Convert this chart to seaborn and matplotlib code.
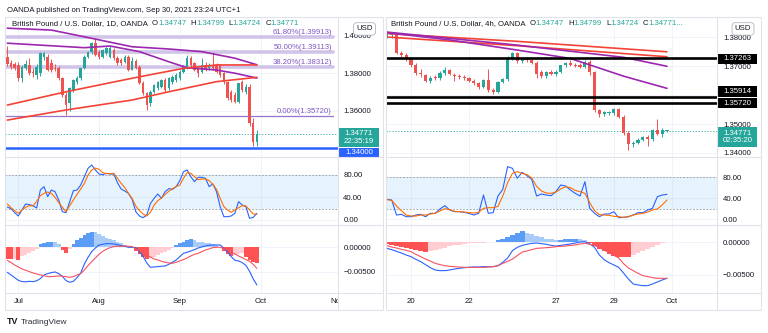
import numpy as np
import pandas as pd
import matplotlib
matplotlib.use("Agg")
import matplotlib.pyplot as plt
import matplotlib.transforms as mtransforms
from matplotlib.lines import Line2D
from matplotlib.patches import Rectangle
from matplotlib.ticker import FixedLocator, FuncFormatter
import seaborn as sns

sns.set_theme(style="white")
plt.rcParams["font.family"] = ["Liberation Sans", "DejaVu Sans"]

INK = "#131722"
UP = "#26a69a"
DOWN = "#ef5350"
PURPLE = "#9c27b0"
MA_RED = "#f44336"
BORDER = "#e0e3eb"
GRID = "#f0f3fa"
FS = 5.6

# ---------------- GBP/USD daily candles, 28 Jun - 30 Sep 2021 ----------------
day_start, day_end = "2021-06-28", "2021-09-30"
day_open = [1.3888, 1.3853, 1.3847, 1.3844, 1.3773, 1.3826, 1.3844, 1.3808, 1.3790, 1.3800,
            1.3888, 1.3888, 1.3853, 1.3828, 1.3826, 1.3773, 1.3684, 1.3639, 1.3710, 1.3755,
            1.3773, 1.3826, 1.3888, 1.3915, 1.3959, 1.3915, 1.3888, 1.3906, 1.3888, 1.3924,
            1.3879, 1.3870, 1.3861, 1.3888, 1.3817, 1.3865, 1.3835, 1.3746, 1.3693, 1.3639,
            1.3702, 1.3719, 1.3728, 1.3764, 1.3719, 1.3755, 1.3764, 1.3773, 1.3808, 1.3835,
            1.3879, 1.3853, 1.3826, 1.3808, 1.3844, 1.3826, 1.3844, 1.3844, 1.3844, 1.3799,
            1.3755, 1.3702, 1.3684, 1.3648, 1.3755, 1.3702, 1.3728, 1.3535, 1.3435]
day_high = [1.3947, 1.3870, 1.3862, 1.3858, 1.3844, 1.3870, 1.3880, 1.3830, 1.3850, 1.3915,
            1.3915, 1.3900, 1.3875, 1.3850, 1.3840, 1.3780, 1.3700, 1.3725, 1.3770, 1.3785,
            1.3830, 1.3895, 1.3920, 1.3965, 1.3986, 1.3925, 1.3930, 1.3940, 1.3945, 1.3935,
            1.3890, 1.3880, 1.3895, 1.3895, 1.3885, 1.3875, 1.3845, 1.3760, 1.3700, 1.3712,
            1.3745, 1.3760, 1.3770, 1.3775, 1.3780, 1.3790, 1.3800, 1.3815, 1.3845, 1.3897,
            1.3890, 1.3860, 1.3835, 1.3879, 1.3860, 1.3855, 1.3915, 1.3855, 1.3850, 1.3808,
            1.3760, 1.3710, 1.3700, 1.3750, 1.3762, 1.3745, 1.3740, 1.3560, 1.3495]
day_low = [1.3840, 1.3825, 1.3815, 1.3760, 1.3755, 1.3815, 1.3790, 1.3780, 1.3770, 1.3785,
           1.3870, 1.3810, 1.3805, 1.3810, 1.3765, 1.3675, 1.3577, 1.3600, 1.3700, 1.3745,
           1.3765, 1.3820, 1.3880, 1.3905, 1.3890, 1.3875, 1.3880, 1.3895, 1.3880, 1.3870,
           1.3845, 1.3845, 1.3855, 1.3810, 1.3815, 1.3820, 1.3740, 1.3685, 1.3602, 1.3625,
           1.3695, 1.3710, 1.3720, 1.3700, 1.3712, 1.3745, 1.3755, 1.3765, 1.3800, 1.3825,
           1.3835, 1.3810, 1.3780, 1.3800, 1.3810, 1.3815, 1.3815, 1.3800, 1.3780, 1.3745,
           1.3655, 1.3645, 1.3640, 1.3640, 1.3700, 1.3690, 1.3520, 1.3410, 1.3410]
day_close = [1.3847, 1.3835, 1.3826, 1.3773, 1.3835, 1.3847, 1.3799, 1.3799, 1.3835, 1.3906,
             1.3906, 1.3817, 1.3817, 1.3824, 1.3773, 1.3684, 1.3630, 1.3719, 1.3764, 1.3773,
             1.3826, 1.3888, 1.3915, 1.3959, 1.3897, 1.3888, 1.3924, 1.3933, 1.3933, 1.3879,
             1.3853, 1.3853, 1.3888, 1.3817, 1.3865, 1.3830, 1.3746, 1.3693, 1.3630, 1.3702,
             1.3737, 1.3755, 1.3764, 1.3710, 1.3773, 1.3781, 1.3790, 1.3808, 1.3835, 1.3879,
             1.3844, 1.3817, 1.3799, 1.3844, 1.3817, 1.3844, 1.3826, 1.3808, 1.3790, 1.3755,
             1.3666, 1.3657, 1.3648, 1.3746, 1.3710, 1.3728, 1.3535, 1.3435, 1.3477]

# moving averages on the daily chart, as (bar index, value) knots
day_ma1_idx = [0, 12, 23, 34, 44, 53, 62, 68]
day_ma1 = [1.4040, 1.4030, 1.3986, 1.3941, 1.3929, 1.3915, 1.3880, 1.3845]
day_ma2_idx = [0, 21, 28, 36, 44, 49, 57, 62, 68]
day_ma2 = [1.3960, 1.3936, 1.3945, 1.3915, 1.3861, 1.3829, 1.3817, 1.3800, 1.3774]
day_ma3_idx = [0, 16, 34, 48, 57, 68]
day_ma3 = [1.3630, 1.3701, 1.3773, 1.3826, 1.3844, 1.3844]
day_ma4_idx = [0, 16, 34, 44, 57, 68]
day_ma4 = [1.3550, 1.3604, 1.3657, 1.3701, 1.3755, 1.3778]

# Fibonacci retracement levels
fib_names = ["61.80%", "50.00%", "38.20%", "0.00%"]
fib_prices = [1.39913, 1.39113, 1.38312, 1.35720]
day_support = 1.34000

# Stochastic RSI on the daily bars
day_k = [23.1, 20.1, 13.0, 7.1, 17.8, 28.4, 27.3, 25.5, 21.3, 53.3, 59.3, 41.5, 53.3, 50.4, 35.6,
         14.8, 13.0, 32.6, 52.1, 53.3, 62.2, 77.0, 91.9, 97.8, 88.9, 81.8, 80.6, 83.0, 81.8, 81.8,
         66.4, 55.1, 51.6, 47.4, 36.7, 14.8, 7.1, 4.1, 8.9, 29.6, 38.5, 46.2, 38.5, 50.4, 55.7,
         54.5, 59.3, 69.9, 85.9, 88.9, 77.0, 68.1, 75.9, 75.9, 74.1, 59.3, 64.0, 50.4, 23.7, 5.9,
         5.9, 7.1, 11.9, 32.6, 26.7, 23.7, 3.0, 4.7, 11.9]
day_d = [28.4, 21.9, 16.6, 11.9, 17.8, 22.5, 25.5, 24.9, 33.2, 43.3, 47.4, 49.8, 47.4, 40.3, 30.8,
         22.5, 14.8, 25.5, 35.6, 45.6, 55.1, 65.2, 80.0, 88.9, 92.4, 90.1, 84.2, 82.4, 82.4, 83.0,
         74.1, 65.2, 57.5, 47.4, 38.5, 24.9, 16.6, 10.7, 7.1, 13.6, 26.7, 34.4, 39.1, 45.6, 51.0,
         55.7, 59.3, 62.2, 74.1, 84.2, 83.0, 77.0, 71.7, 72.9, 72.9, 70.0, 63.4, 54.5, 38.5, 23.7,
         17.8, 13.6, 17.8, 21.9, 25.5, 24.9, 17.8, 10.7, 10.1]

# MACD on the daily bars (units of 0.001)
MACD_UNIT = 1e-3
day_macd = [-5.07, -5.61, -6.15, -6.69, -6.96, -7.00, -6.90, -6.96, -6.80, -6.35, -5.61, -5.34,
            -5.14, -5.00, -5.34, -5.88, -6.76, -7.10, -6.90, -6.15, -5.21, -3.38, -2.03, -0.88,
            -0.14, 0.47, 0.61, 0.74, 0.74, 0.68, 0.54, 0.34, 0.20, 0.00, 0.00, -0.07, -0.95,
            -1.83, -3.18, -4.06, -3.99, -3.92, -3.85, -3.79, -3.45, -3.04, -2.57, -1.89, -1.22,
            -1.01, -0.74, -0.47, -0.14, 0.07, 0.27, 0.41, 0.47, 0.47, 0.47, -0.20, -0.95, -1.89,
            -2.64, -2.77, -3.11, -3.65, -4.87, -6.42, -7.64]
day_signal = [-2.64, -3.11, -3.58, -3.99, -4.39, -4.66, -4.93, -5.21, -5.41, -5.61, -5.75, -5.95,
              -5.95, -5.88, -5.81, -5.88, -5.95, -6.08, -5.95, -5.61, -5.34, -4.60, -3.72, -2.91,
              -2.16, -1.42, -0.81, -0.41, -0.07, 0.14, 0.20, 0.20, 0.27, 0.20, 0.14, -0.34, -0.68,
              -0.95, -1.49, -1.96, -2.37, -2.57, -2.84, -3.04, -3.18, -3.24, -3.04, -2.77, -2.50,
              -2.16, -1.76, -1.42, -1.22, -0.88, -0.54, -0.34, -0.07, 0.00, 0.00, -0.27, -0.54,
              -0.95, -1.35, -1.76, -2.10, -2.50, -2.84, -3.45, -4.26]
day_hist = [-2.3, -2.45, -2.3, -2.5, -1.8, -1.5, -1.1, -0.75, -0.25, 0.6, 0.9, 1.0, 1.15, 1.1, 0.6,
            -0.5, -1.1, -0.3, 0.6, 1.4, 1.9, 2.4, 2.8, 3.1, 3.0, 2.6, 2.2, 1.9, 1.6, 1.4, 1.05, 0.8,
            0.5, 0.3, 0.15, -0.7, -1.3, -1.9, -2.4, -2.2, -1.9, -1.6, -1.2, -0.9, -0.6, -0.1, 0.45,
            0.8, 1.15, 1.5, 1.75, 1.4, 1.1, 1.0, 0.9, 0.8, 0.65, 0.45, 0.05, -0.8, -1.3, -1.8,
            -1.6, -1.4, -1.25, -2.0, -2.6, -2.9, -3.1]

# ---------------- GBP/USD 4-hour candles, 17 Sep 04:00 - 30 Sep 20:00 ----------------
h4_first, h4_last = "2021-09-17 04:00", "2021-09-30 20:00"
h4_open = [1.3803, 1.3808, 1.3810, 1.3746, 1.3738, 1.3725, 1.3705, 1.3676, 1.3668, 1.3648,
           1.3660, 1.3657, 1.3675, 1.3686, 1.3670, 1.3666, 1.3662, 1.3658, 1.3650, 1.3640,
           1.3628, 1.3653, 1.3617, 1.3612, 1.3645, 1.3655, 1.3725, 1.3744, 1.3716, 1.3728,
           1.3720, 1.3712, 1.3680, 1.3665, 1.3678, 1.3672, 1.3680, 1.3702, 1.3710, 1.3705,
           1.3702, 1.3697, 1.3715, 1.3678, 1.3548, 1.3533, 1.3538, 1.3538, 1.3552, 1.3525,
           1.3468, 1.3430, 1.3436, 1.3446, 1.3456, 1.3448, 1.3478, 1.3466, 1.34747]
h4_high = [1.3815, 1.3818, 1.3815, 1.3752, 1.3745, 1.3730, 1.3712, 1.3690, 1.3672, 1.3665,
           1.3668, 1.3682, 1.3695, 1.3690, 1.3676, 1.3672, 1.3668, 1.3662, 1.3655, 1.3645,
           1.3655, 1.3690, 1.3625, 1.3650, 1.3660, 1.3735, 1.3748, 1.3748, 1.3732, 1.3732,
           1.3725, 1.3716, 1.3685, 1.3683, 1.3685, 1.3686, 1.3705, 1.3715, 1.3722, 1.3712,
           1.3710, 1.3720, 1.3720, 1.3682, 1.3552, 1.3545, 1.3545, 1.3556, 1.3556, 1.3530,
           1.3475, 1.3440, 1.3450, 1.3460, 1.3462, 1.3482, 1.3518, 1.3485, 1.34799]
h4_low = [1.3795, 1.3798, 1.3740, 1.3730, 1.3718, 1.3698, 1.3668, 1.3662, 1.3645, 1.3642,
          1.3652, 1.3652, 1.3670, 1.3670, 1.3648, 1.3655, 1.3652, 1.3645, 1.3635, 1.3620,
          1.3625, 1.3610, 1.3605, 1.3608, 1.3640, 1.3650, 1.3720, 1.3712, 1.3710, 1.3714,
          1.3708, 1.3660, 1.3660, 1.3660, 1.3668, 1.3665, 1.3676, 1.3698, 1.3700, 1.3696,
          1.3692, 1.3692, 1.3670, 1.3540, 1.3525, 1.3528, 1.3532, 1.3532, 1.3520, 1.3462,
          1.3412, 1.3422, 1.3430, 1.3440, 1.3425, 1.3440, 1.3462, 1.3455, 1.34724]
h4_close = [1.3810, 1.3812, 1.3746, 1.3738, 1.3725, 1.3705, 1.3675, 1.3672, 1.3650, 1.3660,
            1.3657, 1.3675, 1.3686, 1.3674, 1.3666, 1.3662, 1.3658, 1.3650, 1.3640, 1.3628,
            1.3651, 1.3617, 1.3612, 1.3645, 1.3655, 1.3725, 1.3744, 1.3716, 1.3728, 1.3720,
            1.3712, 1.3672, 1.3664, 1.3678, 1.3672, 1.3680, 1.3702, 1.3710, 1.3705, 1.3700,
            1.3697, 1.3715, 1.3678, 1.3548, 1.3533, 1.3540, 1.3540, 1.3552, 1.3525, 1.3468,
            1.3430, 1.3436, 1.3446, 1.3456, 1.3448, 1.3478, 1.3466, 1.3480, 1.34771]

# moving averages on the 4h chart, as (4h slot, value) knots; slot 6 = 20 Sep 00:00
h4_ma1_idx = [1, 28, 59]
h4_ma1 = [1.3812, 1.3785, 1.3749]
h4_ma2_idx = [1, 28, 59]
h4_ma2 = [1.3800, 1.3770, 1.3732]
h4_ma3_idx = [1, 28, 50, 59]
h4_ma3 = [1.3817, 1.3772, 1.3730, 1.3699]
h4_ma4_idx = [1, 14, 28, 39, 50, 59]
h4_ma4 = [1.3815, 1.3790, 1.3755, 1.3726, 1.3665, 1.3623]

h4_levels = [1.37263, 1.35914, 1.35720]

h4_k = [37.5, 36.2, 7.6, 8.9, 4.4, 4.4, 7.6, 8.9, 4.4, 10.8,
        10.8, 19.1, 25.4, 17.2, 14.0, 14.0, 12.7, 10.8, 7.6, 10.8,
        45.7, 10.8, 12.1, 43.8, 56.5, 99.7, 96.5, 77.5, 88.9, 82.6,
        75.6, 43.8, 47.6, 45.7, 44.5, 52.1, 64.8, 62.9, 55.3, 48.9,
        43.8, 71.1, 20.3, 10.8, 4.4, 9.5, 9.5, 14.0, 2.5, 3.2,
        4.4, 7.6, 12.1, 12.1, 17.2, 20.3, 42.5, 45.7, 47.0]
h4_d = [36.8, 35.6, 24.8, 15.9, 7.6, 5.7, 5.7, 7.6, 7.6, 9.5,
        10.8, 15.3, 19.7, 17.8, 14.6, 14.0, 13.3, 12.1, 11.4, 12.7,
        20.3, 21.6, 21.6, 24.1, 43.8, 69.2, 87.0, 90.2, 87.0, 84.5,
        78.1, 62.2, 53.4, 49.5, 48.9, 51.4, 57.2, 61.6, 59.7, 54.6,
        52.1, 48.9, 31.1, 15.9, 8.3, 7.6, 7.0, 5.1, 4.4, 3.2,
        4.4, 7.6, 9.5, 10.8, 13.3, 17.2, 19.1, 26.7, 36.2]
h4_macd = [-0.96, -1.16, -1.41, -1.67, -1.97, -2.22, -2.63, -2.98, -3.43, -3.89,
           -4.24, -4.34, -4.34, -4.24, -4.09, -3.99, -3.89, -3.84, -3.79, -3.79,
           -3.74, -3.74, -3.74, -3.59, -3.08, -2.42, -1.31, -0.81, -0.51, -0.35,
           -0.20, -0.15, -0.25, -0.35, -0.51, -0.61, -0.51, -0.40, -0.30, -0.15,
           0.00, 0.05, -0.25, -0.81, -1.97, -2.68, -3.13, -3.48, -3.84, -4.70,
           -5.61, -6.36, -6.51, -6.62, -6.62, -6.36, -6.06, -5.76, -5.50]
h4_signal = [-0.56, -0.76, -0.91, -1.11, -1.26, -1.46, -1.87, -2.22, -2.58, -2.88,
             -3.23, -3.43, -3.59, -3.69, -3.74, -3.79, -3.84, -3.84, -3.84, -3.84,
             -3.84, -3.79, -3.74, -3.59, -3.23, -2.93, -2.58, -2.07, -1.52, -1.36,
             -1.16, -0.96, -0.91, -0.86, -0.81, -0.71, -0.66, -0.61, -0.51, -0.45,
             -0.30, -0.20, -0.35, -0.51, -0.86, -1.21, -1.62, -2.02, -2.42, -3.28,
             -3.94, -4.34, -4.75, -5.10, -5.25, -5.40, -5.50, -5.50, -5.50]
h4_hist = [-0.25, -0.4, -0.55, -0.7, -0.85, -1.0, -1.2, -1.4, -1.55, -1.4,
           -1.25, -1.05, -0.85, -0.65, -0.5, -0.4, -0.3, -0.2, -0.15, -0.12,
           -0.1, -0.06, -0.02, 0.25, 0.45, 0.75, 1.05, 1.4, 1.62, 1.4,
           1.15, 0.9, 0.7, 0.5, 0.4, 0.3, 0.35, 0.4, 0.42, 0.45,
           0.4, 0.25, -0.1, -0.6, -1.0, -1.3, -1.75, -2.1, -2.2, -2.25,
           -2.3, -2.0, -1.7, -1.4, -1.05, -0.75, -0.45, -0.2, 0.0]

last_price = 1.34771
header_ohlc = [("O", "1.34747"), ("H", "1.34799"), ("L", "1.34724"), ("C", "1.34771")]

# ---------------- figure helpers ----------------
FW, FH = 768, 333
fig = plt.figure(figsize=(FW / 100, FH / 100), dpi=100)
fig.patch.set_facecolor("white")


def px_rect(x0, y0, x1, y1):
    return [x0 / FW, 1 - y1 / FH, (x1 - x0) / FW, (y1 - y0) / FH]


def fig_line(x0, y0, x1, y1, color=BORDER, lw=0.8):
    fig.add_artist(Line2D([x0 / FW, x1 / FW], [1 - y0 / FH, 1 - y1 / FH],
                          transform=fig.transFigure, color=color, lw=lw))


def pane(rect, xlim, ylim, ticks, fmt, pad, grid_ticks=None):
    ax = fig.add_axes(rect)
    ax.set_facecolor("white")
    for s in ax.spines.values():
        s.set_visible(False)
    ax.set_xlim(*xlim)
    ax.set_ylim(*ylim)
    ax.yaxis.tick_right()
    ax.yaxis.set_major_locator(FixedLocator(ticks))
    ax.yaxis.set_major_formatter(FuncFormatter(fmt))
    ax.tick_params(axis="y", length=0, pad=pad, labelsize=FS, labelcolor=INK)
    ax.tick_params(axis="x", bottom=False, labelbottom=False)
    for g in (grid_ticks if grid_ticks is not None else ticks):
        ax.axhline(g, color=GRID, lw=0.7, zorder=0)
    return ax


def candles(ax, x, o, h, l, c, width, min_body):
    o, h, l, c = map(np.asarray, (o, h, l, c))
    cols = np.where(c >= o, UP, DOWN)
    ax.vlines(x, l, h, colors=cols, lw=0.7, zorder=3)
    ax.bar(x, np.maximum(np.abs(c - o), min_body), bottom=np.minimum(o, c), width=width,
           color=cols, linewidth=0, zorder=4)


def line(ax, x, y, color, lw, z=5):
    sns.lineplot(x=np.asarray(x, float), y=np.asarray(y, float), ax=ax, color=color,
                 linewidth=lw, legend=False, zorder=z)
    ax.set_xlabel("")
    ax.set_ylabel("")


def histogram(ax, x, h):
    h = np.asarray(h) * MACD_UNIT
    prev = np.concatenate([[h[0]], h[:-1]])
    cols = np.where(h >= 0, np.where(h >= prev, "#5b9cf6", "#a8cbf8"),
                    np.where(h <= prev, "#ff5252", "#ffcdd2"))
    ax.bar(x, h, width=1.0, color=cols, linewidth=0, zorder=2)


def stoch_band(ax):
    ax.axhspan(20, 80, color="#2196f3", alpha=0.11, lw=0, zorder=0)
    for lv in (20, 80):
        ax.axhline(lv, color="#9598a1", lw=0.6, ls=(0, (2, 2)), zorder=1)


def tag(ax, y, text, fc, shift_px=0.0, height_px=10.0, width_px=40.0, tc="white"):
    """Price tag on the scale: a fixed-size box whose centre sits shift_px
    pixels above the price level (negative = below)."""
    bbox = ax.get_position()
    ax_w = bbox.width * FW
    ax_h = bbox.height * FH
    lo, hi = ax.get_ylim()
    per_px = (hi - lo) / ax_h
    trans = mtransforms.blended_transform_factory(ax.transAxes, ax.transData)
    yc = y + shift_px * per_px
    x0 = 1 + 0.8 / ax_w
    ax.add_patch(Rectangle((x0, yc - height_px / 2 * per_px), width_px / ax_w, height_px * per_px,
                           transform=trans, fc=fc, ec="none", clip_on=False, zorder=10))
    ax.text(x0 + width_px / 2 / ax_w, yc, text, transform=trans, ha="center", va="center",
            fontsize=FS, color=tc, linespacing=1.05, clip_on=False, zorder=11)


def header(ax, x_px, name, extra=""):
    t = ax.text(x_px, 0.93, name, transform=ax.transAxes, fontsize=FS, color=INK,
                ha="left", va="bottom")
    prev = t
    for key, val in header_ohlc:
        a = ax.annotate(key, xy=(1, 0), xycoords=prev, xytext=(3.0, 0), textcoords="offset points",
                        ha="left", va="bottom", fontsize=FS, color=INK)
        prev = ax.annotate(val + (extra if key == "C" else ""), xy=(1, 0), xycoords=a,
                           ha="left", va="bottom", fontsize=FS, color=UP)


def usd_box(ax, x_frac):
    ax.text(x_frac, 0.915, "USD", transform=ax.transAxes, fontsize=FS, color=INK,
            ha="center", va="center",
            bbox=dict(boxstyle="round,pad=0.35,rounding_size=0.4", fc="white", ec="#b2b5be", lw=0.6))


def price_fmt(v, _):
    return f"{v:.5f}"


def osc_fmt(v, _):
    return f"{v:.2f}"


def macd_fmt(v, _):
    return f"{v:.5f}".replace("-", "\u2212")


def time_strip(rect, xlim, ticks):
    ax = fig.add_axes(rect)
    ax.set_xlim(*xlim)
    ax.set_ylim(0, 1)
    ax.axis("off")
    for pos, lab in ticks:
        ax.text(pos, 0.5, lab, fontsize=FS, color=INK, ha="center", va="center", clip_on=True)
    return ax


# ---------------- layout ----------------
Y_TOP, Y_P, Y_S, Y_M, Y_BOT = 17, 157, 225, 293, 310

fig.text(7 / FW, 1 - 10 / FH, "OANDA published on TradingView.com, Sep 30, 2021 23:24 UTC+1",
         fontsize=FS, color=INK, ha="left", va="center")
fig.text(7 / FW, 1 - 322 / FH, "TV", fontsize=6.4, color=INK, fontweight="black", ha="left", va="center")
fig.text(21 / FW, 1 - 322 / FH, "TradingView", fontsize=6.0, color="#2a2e39", ha="left", va="center")

# ===== left panel: daily =====
L0, L1, L2 = 5, 338, 383
day_dates = pd.bdate_range(day_start, day_end)
day_x = np.arange(len(day_dates))
axis_days = pd.bdate_range(day_start, "2021-11-01")
month_pos = [i for i in range(1, len(axis_days)) if axis_days[i].month != axis_days[i - 1].month]
month_ticks = [(i, axis_days[i].strftime("%b")) for i in month_pos]
dxlim = (-0.63, 90.1)

# the 1.34000 scale label sits under the support-level tag, which repeats it
axp = pane(px_rect(L0, Y_TOP, L1, Y_P), dxlim, (1.33531, 1.40997),
           [1.36, 1.38, 1.40], price_fmt, 3.8, grid_ticks=[1.34, 1.36, 1.38, 1.40])
for i, _ in month_ticks:
    axp.axvline(i, color=GRID, lw=0.7, zorder=0)
for name, lv in zip(fib_names, fib_prices):
    main = name != "0.00%"
    axp.axhline(lv, xmax=0.985, color="#d1c4e9" if main else "#9575cd",
                lw=2.6 if main else 0.9, zorder=1)
    axp.text(0.982, lv + 0.0006, f"{name}({lv:.5f})", transform=mtransforms.blended_transform_factory(
        axp.transAxes, axp.transData), fontsize=FS, color="#7e57c2", ha="right", va="bottom", zorder=6)
line(axp, day_ma1_idx, day_ma1, PURPLE, 1.2)
line(axp, day_ma2_idx, day_ma2, PURPLE, 1.2)
line(axp, day_ma3_idx, day_ma3, MA_RED, 1.2)
line(axp, day_ma4_idx, day_ma4, MA_RED, 1.2)
candles(axp, day_x, day_open, day_high, day_low, day_close, 0.68, 0.0005)
axp.axhline(day_support, color="#2962ff", lw=1.8, zorder=5)
axp.axhline(last_price, color=UP, lw=0.6, ls=(0, (1.5, 2)), zorder=2)
header(axp, 7 / (L1 - L0), "British Pound / U.S. Dollar, 1D, OANDA")
usd_box(axp, (364.5 - L0) / (L1 - L0))
tag(axp, last_price, "1.34771\n22:35:19", UP, shift_px=-3.8, height_px=19)
tag(axp, day_support, "1.34000", "#2962ff", shift_px=-4.5, height_px=9.5)

axs = pane(px_rect(L0, Y_P, L1, Y_S), dxlim, (-8.9, 112), [0, 40, 80], osc_fmt, 3.8)
for i, _ in month_ticks:
    axs.axvline(i, color=GRID, lw=0.7, zorder=0)
stoch_band(axs)
line(axs, day_x, day_k, "#2962ff", 0.8)
line(axs, day_x, day_d, "#ff6d00", 0.8)

axm = pane(px_rect(L0, Y_S, L1, Y_M), dxlim, (-0.00927, 0.00452), [-0.005, 0.0], macd_fmt, 3.8)
for i, _ in month_ticks:
    axm.axvline(i, color=GRID, lw=0.7, zorder=0)
histogram(axm, day_x, day_hist)
line(axm, day_x, np.asarray(day_macd) * MACD_UNIT, "#2962ff", 0.8)
line(axm, day_x, np.asarray(day_signal) * MACD_UNIT, "#f7525f", 0.8)

time_strip(px_rect(L0, Y_M, L1, Y_BOT), dxlim, month_ticks)

# frame and separators
fig.add_artist(Rectangle((L0 / FW, 1 - Y_BOT / FH), (L2 - L0) / FW, (Y_BOT - Y_TOP) / FH,
                         transform=fig.transFigure, fill=False, ec=BORDER, lw=0.8))
fig_line(L1, Y_TOP, L1, Y_BOT)
for yy in (Y_P, Y_S, Y_M):
    fig_line(L0, yy, L2, yy)

# ===== right panel: 4 hours =====
R0, R1, R2 = 386, 717, 761
h4_days = pd.bdate_range("2021-09-17", "2021-10-01")
h4_slots = pd.DatetimeIndex([d + pd.Timedelta(hours=hh) for d in h4_days for hh in range(0, 24, 4)])
h4_x = np.flatnonzero((h4_slots >= pd.Timestamp(h4_first)) & (h4_slots <= pd.Timestamp(h4_last)))
h4_tick_days = ["2021-09-20", "2021-09-22", "2021-09-27", "2021-09-29", "2021-10-01"]
h4_ticks = []
for dstr in h4_tick_days:
    ts = pd.Timestamp(dstr)
    pos = int(np.flatnonzero(h4_slots == ts)[0])
    h4_ticks.append((pos, ts.strftime("%b") if ts.day == 1 else str(ts.day)))
hxlim = (0.82, 69.35)

# 1.36000 is hidden behind the level tags on this scale
bxp = pane(px_rect(R0, Y_TOP, R1, Y_P), hxlim, (1.33862, 1.38690),
           [1.34, 1.35, 1.37, 1.38], price_fmt, 4.3, grid_ticks=[1.34, 1.35, 1.36, 1.37, 1.38])
for i, _ in h4_ticks:
    bxp.axvline(i, color=GRID, lw=0.7, zorder=0)
line(bxp, h4_ma1_idx, h4_ma1, MA_RED, 1.2)
line(bxp, h4_ma2_idx, h4_ma2, MA_RED, 1.2)
line(bxp, h4_ma3_idx, h4_ma3, PURPLE, 1.2)
line(bxp, h4_ma4_idx, h4_ma4, PURPLE, 1.2)
for lv in h4_levels:
    bxp.axhline(lv, color="black", lw=1.9, zorder=5)
candles(bxp, h4_x, h4_open, h4_high, h4_low, h4_close, 0.66, 0.00035)
bxp.axhline(last_price, color=UP, lw=0.6, ls=(0, (1.5, 2)), zorder=2)
header(bxp, 5 / (R1 - R0), "British Pound / U.S. Dollar, 4h, OANDA", extra="...")
usd_box(bxp, (743 - R0) / (R1 - R0))
tag(bxp, h4_levels[0], "1.37263", "black", shift_px=-0.5, height_px=10.5, width_px=39)
tag(bxp, h4_levels[1], "1.35914", "black", shift_px=6.0, height_px=10.5, width_px=39)
tag(bxp, h4_levels[2], "1.35720", "black", shift_px=0.0, height_px=10.5, width_px=39)
tag(bxp, last_price, "1.34771\n02:35:20", UP, shift_px=-6.0, height_px=20, width_px=39)

bxs = pane(px_rect(R0, Y_P, R1, Y_S), hxlim, (-11.4, 118.1), [0, 40, 80], osc_fmt, 4.3)
for i, _ in h4_ticks:
    bxs.axvline(i, color=GRID, lw=0.7, zorder=0)
stoch_band(bxs)
line(bxs, h4_x, h4_k, "#2962ff", 0.8)
line(bxs, h4_x, h4_d, "#ff6d00", 0.8)

bxm = pane(px_rect(R0, Y_S, R1, Y_M), hxlim, (-0.00773, 0.00258), [-0.005, 0.0], macd_fmt, 4.3)
for i, _ in h4_ticks:
    bxm.axvline(i, color=GRID, lw=0.7, zorder=0)
histogram(bxm, h4_x, h4_hist)
line(bxm, h4_x, np.asarray(h4_macd) * MACD_UNIT, "#2962ff", 0.8)
line(bxm, h4_x, np.asarray(h4_signal) * MACD_UNIT, "#f7525f", 0.8)

time_strip(px_rect(R0, Y_M, R1, Y_BOT), hxlim, h4_ticks)

fig.add_artist(Rectangle((R0 / FW, 1 - Y_BOT / FH), (R2 - R0) / FW, (Y_BOT - Y_TOP) / FH,
                         transform=fig.transFigure, fill=False, ec=BORDER, lw=0.8))
fig_line(R1, Y_TOP, R1, Y_BOT)
for yy in (Y_P, Y_S, Y_M):
    fig_line(R0, yy, R2, yy)

fig.savefig("out.png", dpi=100, facecolor="white")
